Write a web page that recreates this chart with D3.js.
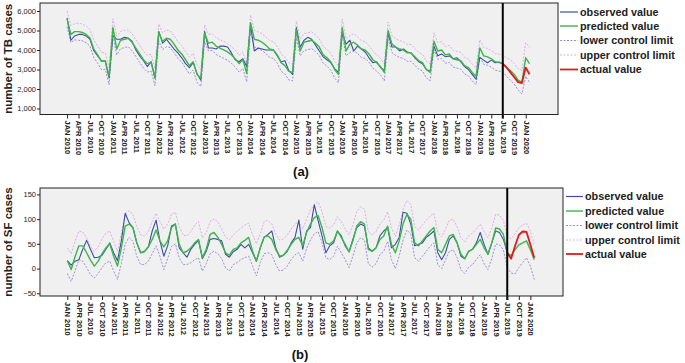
<!DOCTYPE html>
<html><head><meta charset="utf-8">
<script src="https://cdn.jsdelivr.net/npm/d3@7"></script>
<style>
body{margin:0;background:#fff}
svg{display:block}
text{font-family:"Liberation Sans",Arial,sans-serif}
</style>
</head><body>
<svg id="c" width="685" height="363"></svg>
<script>
// ---------- tick labels ----------
const tickLabels = ["JAN 2010","APR 2010","JUL 2010","OCT 2010","JAN 2011","APR 2011","JUL 2011","OCT 2011",
"JAN 2012","APR 2012","JUL 2012","OCT 2012","JAN 2013","APR 2013","JUL 2013","OCT 2013",
"JAN 2014","APR 2014","JUL 2014","OCT 2014","JAN 2015","APR 2015","JUL 2015","OCT 2015",
"JAN 2016","APR 2016","JUL 2016","OCT 2016","JAN 2017","APR 2017","JUL 2017","OCT 2017",
"JAN 2018","APR 2018","JUL 2018","OCT 2018","JAN 2019","APR 2019","JUL 2019","OCT 2019","JAN 2020"];
const forecastStart = 114; // JUL 2019 (month index from JAN 2010)
const legendLabels = ["observed value","predicted value","lower control limit","upper control limit","actual value"];

// ---------- TB (panel a) ----------
const tbObserved = [
5650,4500,4720,4800,4800,4720,4550,3960,3700,3450,3420,2560,
4750,4550,4550,4650,4600,4450,4000,3700,3450,3150,3400,2550,
4950,4350,4550,4300,4050,3850,3600,3300,3100,3350,2800,2450,
4950,4100,4100,4050,4200,4200,4150,3850,3500,3400,3550,3150,
5300,3950,4100,4050,4000,4000,4000,3700,3400,3450,2950,2750,
5150,4150,4500,4650,4550,4250,3950,3650,3500,3350,3050,2850,
4900,4300,4500,3950,4200,4050,3900,3600,3350,3400,3100,2950,
4850,4150,4150,3950,4050,3900,3850,3600,3400,3300,3000,2900,
4200,3700,3800,3650,3700,3550,3600,3400,3150,3000,2750,2500,
3620,3480,3350,3480,3350,3380,3300];
const tbPredicted = [
5600,4800,4940,4940,4900,4800,4620,4040,3750,3420,3450,2650,
5150,4050,4500,4550,4600,4400,4100,3800,3500,3300,3350,2600,
4900,4450,4600,4550,4300,4000,3800,3500,3200,3400,2750,2550,
4850,4350,4400,4200,4100,4000,3900,3750,3550,3300,3500,2800,
5400,4550,4500,4400,4250,4050,4000,3750,3350,3200,2900,2850,
5050,3950,4400,4450,4500,4350,4150,3750,3600,3400,3000,2750,
5150,3950,4300,4400,4250,4050,4000,3800,3500,3350,3150,2850,
5000,4300,4150,4050,4000,3850,3850,3650,3450,3350,3000,2850,
4450,3950,4000,3750,3800,3550,3500,3450,3200,3100,2850,2650,
4100,3700,3650,3550,3400,3350,3300,3100,2950,2750,2450,2350,3600,3300];
const tbUpper = [
6000,5250,5350,5380,5330,5230,5050,4500,4200,3880,3850,3100,
5600,4700,4950,5000,5030,4830,4530,4230,3930,3730,3780,3030,
5330,4880,5030,4980,4730,4430,4230,3930,3630,3830,3250,2980,
5280,4800,4830,4630,4530,4430,4330,4180,3980,3730,3900,3230,
5800,5000,4930,4830,4680,4480,4430,4180,3800,3630,3350,3280,
5480,4550,4830,4880,4930,4780,4580,4180,4030,3830,3430,3180,
5580,4550,4730,4830,4680,4480,4430,4230,3930,3780,3580,3280,
5430,4730,4580,4480,4430,4280,4280,4080,3880,3780,3430,3280,
4880,4380,4430,4180,4230,3980,3930,3880,3630,3530,3280,3080,
4530,4130,4080,3980,3830,3780,3730,3600,3500,3300,3050,2950,4380,4130];
const tbLower = [
5200,4380,4520,4500,4470,4370,4190,3620,3320,2990,3010,2220,
4720,3750,4070,4120,4170,3970,3670,3370,3070,2870,2920,2170,
4470,4020,4170,4120,3870,3570,3370,3070,2770,2970,2350,2120,
4420,3950,3970,3770,3670,3570,3470,3320,3120,2870,3050,2370,
4970,4150,4070,3970,3820,3620,3570,3320,2920,2770,2470,2420,
4620,3700,3970,4020,4070,3920,3720,3320,3170,2970,2570,2320,
4720,3700,3870,3970,3820,3620,3570,3370,3070,2920,2720,2420,
4570,3870,3720,3620,3570,3420,3420,3220,3020,2920,2570,2420,
4020,3520,3570,3320,3370,3120,3070,3020,2770,2670,2420,2220,
3670,3270,3220,3120,2970,2920,2870,2650,2450,2250,1950,1750,2650,2350];
const tbActual = [3300,3100,2850,2600,2350,2300,3100,2750];
const tbTicks = [1000,2000,3000,4000,5000,6000];

// ---------- SF (panel b) ----------
const sfObserved = [
16,7,15,18,39,57,39,22,23,27,39,52,
32,16,56,112,93,83,52,32,34,44,76,98,
56,25,46,86,90,42,32,23,39,49,57,20,
35,59,61,59,56,29,23,34,39,49,42,49,
32,15,42,63,69,76,42,23,27,35,52,63,
98,39,76,83,129,97,66,32,46,52,76,66,
46,34,59,83,90,86,42,35,42,66,76,83,
42,49,63,114,112,90,46,49,52,63,69,76,
32,18,32,59,66,52,25,20,35,39,52,73,
49,29,52,76,73,59,32];
const sfPredicted = [
16,-2,24,46,46,32,17,5,15,30,42,50,
25,5,42,86,90,83,52,32,35,44,59,78,
56,44,56,83,90,49,32,35,42,52,59,22,
39,69,73,63,49,32,27,39,42,52,57,63,
35,15,42,64,66,59,39,25,27,37,49,59,
63,46,73,90,103,107,83,52,49,56,76,63,
49,34,56,86,95,90,39,35,42,59,66,86,
49,32,56,90,110,100,52,46,56,66,76,83,
39,32,49,66,69,52,29,20,35,39,49,59,
42,29,52,82,80,69,32,26,38,48,52,56,38,18];
const sfUpper = [
42,30,55,76,74,62,45,35,45,60,72,76,
55,35,70,110,117,110,85,68,66,75,95,112,
95,80,90,110,114,85,68,66,75,88,95,62,
72,95,100,95,80,64,58,68,75,82,88,92,
68,50,70,95,98,90,70,58,60,68,80,90,
95,80,100,118,130,135,115,85,82,88,105,95,
80,68,88,115,125,120,75,68,75,90,98,115,
82,65,88,120,138,130,85,78,88,98,106,112,
72,64,80,98,100,85,62,54,66,72,80,90,
75,62,82,110,108,98,66,60,70,82,88,92,75,50];
const sfLower = [
-10,-26,-5,18,15,2,-12,-19,-10,2,12,15,
-5,-22,10,50,63,55,25,8,8,15,30,46,
25,-2,20,45,50,22,8,8,12,18,22,-5,
10,30,35,30,20,2,-5,8,12,18,22,25,
5,-15,12,30,32,28,8,-5,-3,5,18,28,
32,15,40,58,70,75,52,22,18,25,45,32,
18,2,25,52,62,58,10,3,10,28,35,55,
18,0,25,58,78,70,22,15,25,35,45,52,
8,0,18,35,38,22,-2,-10,3,8,18,28,
10,-2,20,50,48,38,2,-9,-11,2,12,22,5,-22];
const sfActual = [32,20,45,68,75,74,48,22];
const sfTicks = [-50,0,50,100,150];

// ---------- drawing ----------
const colors = {obs:"#3b4ea6", pred:"#3cb54a", lower:"#9a90d8", upper:"#dcaee8", actual:"#e3191c"};
const svg = d3.select("#c");

function panel(c){
  const x = d3.scaleLinear().domain([-7.08,128.45]).range([c.x0,c.x1]);
  const y = d3.scaleLinear().domain(c.ydom).range([c.y1,c.y0]);
  const g = svg.append("g");
  g.append("rect").attr("x",c.x0).attr("y",c.y0).attr("width",c.x1-c.x0).attr("height",c.y1-c.y0).attr("fill","#f0f0f0");
  const line = off => d3.line().x((d,i)=>x(i+off)).y(d=>y(d));
  const series = [
    [c.lower,0,colors.lower,1,"2,1.5"],
    [c.upper,0,colors.upper,1,"2,1.5"],
    [c.obs,0,colors.obs,1.1,null],
    [c.pred,0,colors.pred,1.4,null],
    [c.actual,forecastStart,colors.actual,1.8,null]
  ];
  series.forEach(([d,off,col,w,dash])=>{
    const p = g.append("path").datum(d).attr("d",line(off)).attr("fill","none")
      .attr("stroke",col).attr("stroke-width",w).attr("stroke-linejoin","round");
    if(dash) p.attr("stroke-dasharray",dash);
  });
  g.append("line").attr("x1",x(forecastStart)).attr("x2",x(forecastStart))
    .attr("y1",c.y0).attr("y2",c.y1+4).attr("stroke","#000").attr("stroke-width",2);
  g.append("rect").attr("x",c.x0).attr("y",c.y0).attr("width",c.x1-c.x0).attr("height",c.y1-c.y0)
    .attr("fill","none").attr("stroke","#222").attr("stroke-width",1);
  // y axis
  const ya = g.append("g").attr("transform",`translate(${c.x0},0)`)
    .call(d3.axisLeft(y).tickValues(c.yticks).tickFormat(d3.format(",")).tickSize(3).tickPadding(1));
  ya.select(".domain").remove();
  ya.selectAll("line").attr("stroke","#222");
  ya.selectAll("text").attr("font-size",7.5).attr("fill","#222").attr("font-family","Liberation Sans, Arial, sans-serif");
  // x axis
  const xa = g.append("g").attr("transform",`translate(0,${c.y1})`)
    .call(d3.axisBottom(x).tickValues(tickLabels.map((t,i)=>i*3)).tickFormat((d,i)=>tickLabels[i]).tickSize(4));
  xa.select(".domain").remove();
  xa.selectAll("line").attr("stroke","#222");
  xa.selectAll("text").attr("transform","rotate(90)").attr("text-anchor","start")
    .attr("x",6).attr("y",0).attr("dy","0.35em").attr("font-size",7.5).attr("font-weight","bold")
    .attr("fill","#222").attr("font-family","Liberation Sans, Arial, sans-serif");
  // y title
  g.append("text").attr("transform",`translate(${c.titleX},${(c.y0+c.y1)/2}) rotate(-90)`)
    .attr("text-anchor","middle").attr("dy","0.35em").attr("font-size",11.5).attr("font-weight","bold")
    .attr("fill","#222").text(c.title);
  // panel label
  g.append("text").attr("x",c.labelX).attr("y",c.labelY).attr("text-anchor","middle")
    .attr("font-size",13).attr("font-weight","bold").attr("fill","#111").text(c.label);
  // legend
  const lg = g.append("g");
  const lcols = [colors.obs,colors.pred,colors.lower,colors.upper,colors.actual];
  const lw = [1.2,1.4,1,1,1.8];
  legendLabels.forEach((t,i)=>{
    const ly = c.legY[i];
    const l = lg.append("line").attr("x1",c.legX0).attr("x2",c.legX1).attr("y1",ly).attr("y2",ly)
      .attr("stroke",lcols[i]).attr("stroke-width",lw[i]);
    if(i===2||i===3) l.attr("stroke-dasharray","2,1.5");
    lg.append("text").attr("x",c.legX1+2).attr("y",ly).attr("dy","0.35em")
      .attr("font-size",10.8).attr("font-weight","bold").attr("fill","#222").text(t);
  });
}

panel({x0:40,x1:558,y0:3,y1:114.5,ydom:[692,6410],yticks:tbTicks,
  obs:tbObserved,pred:tbPredicted,lower:tbLower,upper:tbUpper,actual:tbActual,
  title:"number of TB cases",titleX:8,label:"(a)",labelX:301,labelY:176,
  legX0:560,legX1:578,legY:[12,26,40.5,55,69.5]});
panel({x0:40,x1:563,y0:188,y1:296,ydom:[-55.5,163],yticks:sfTicks,
  obs:sfObserved,pred:sfPredicted,lower:sfLower,upper:sfUpper,actual:sfActual,
  title:"number of SF cases",titleX:8,label:"(b)",labelX:300,labelY:359,
  legX0:566,legX1:583,legY:[196.5,211,225.5,240,254]});
</script>
</body></html>
